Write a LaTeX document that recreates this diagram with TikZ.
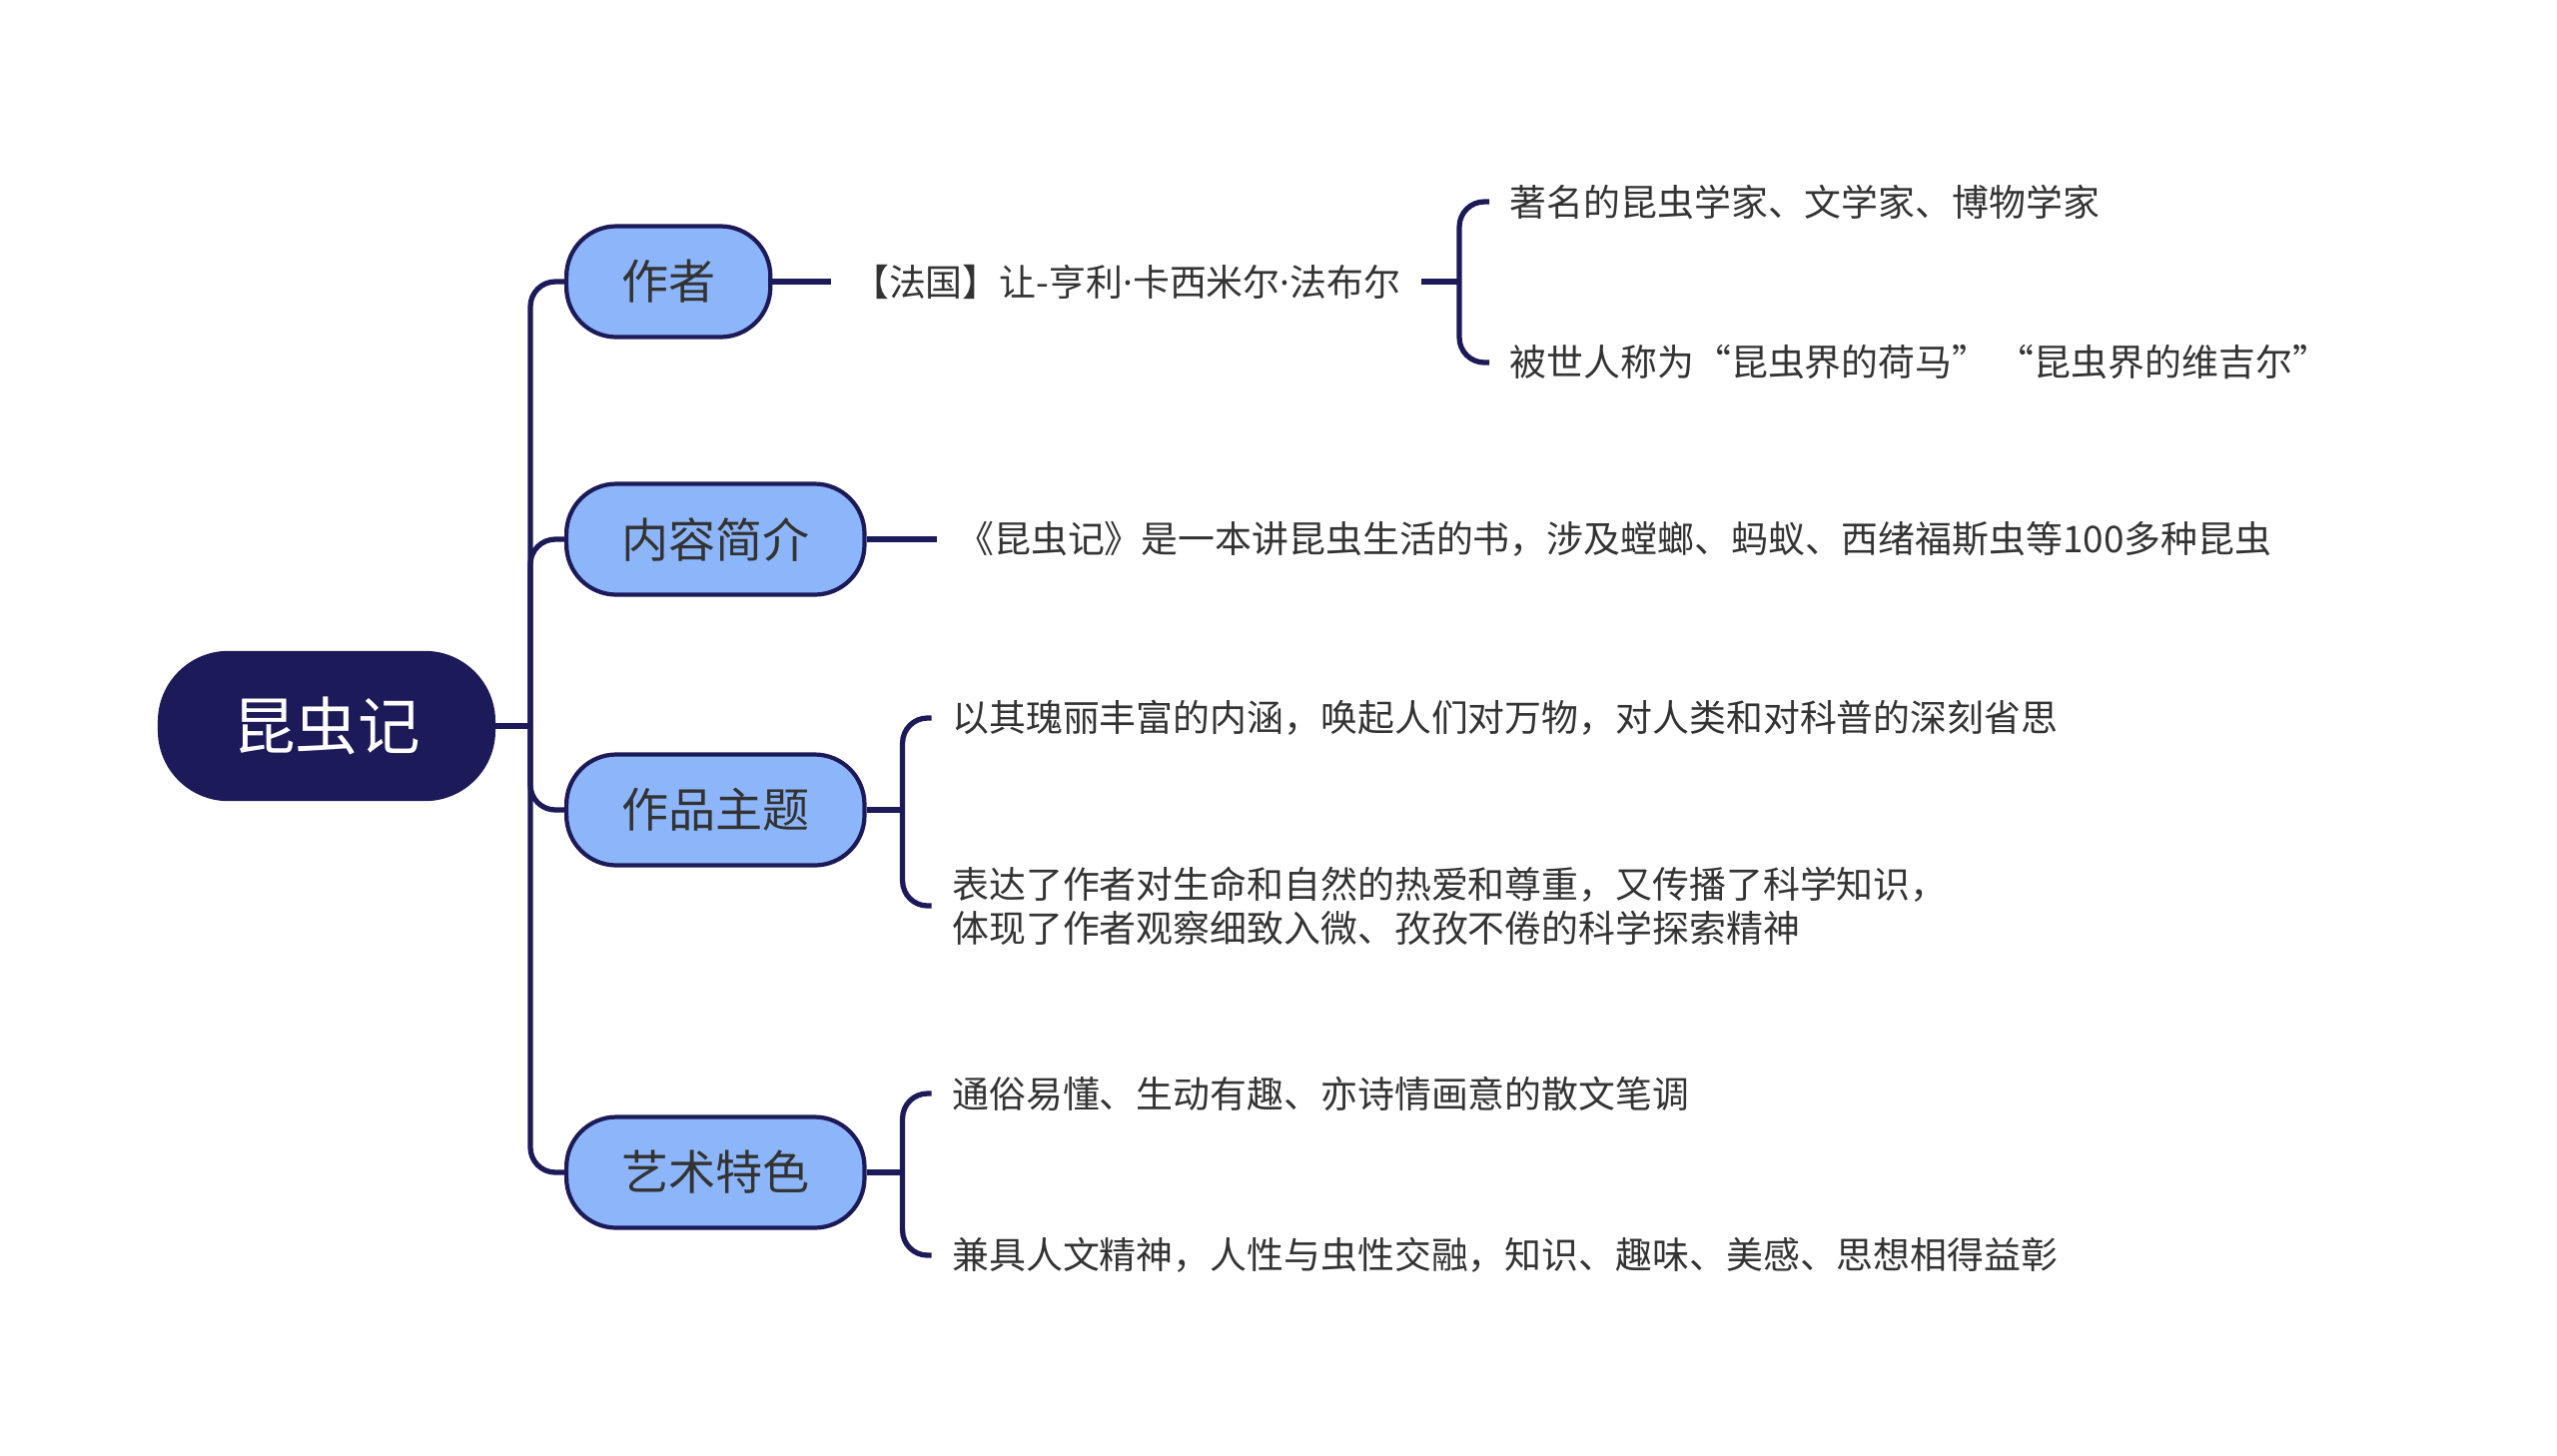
\documentclass[tikz,border=0pt]{standalone}
\usepackage{fontspec}
\newfontfamily\cjk{Noto Sans CJK SC}
\newfontfamily\latin{Noto Sans}
\usetikzlibrary{positioning}
\definecolor{navy}{HTML}{1C1A58}
\definecolor{skyfill}{HTML}{8DB6FA}
\definecolor{ink}{HTML}{333333}
\newcommand{\middot}{{\latin ·}}

\begin{document}
\begin{tikzpicture}[
    font=\cjk,
    root/.style={
      fill=navy,
      draw=navy,
      text=white,
      rounded corners=0.7cm,
      minimum height=1.49cm,
      inner xsep=0.745cm,
      font=\cjk\fontsize{17.8pt}{20pt}\selectfont
    },
    branch/.style={
      draw=navy,
      line width=1.2pt,
      fill=skyfill,
      text=ink,
      rounded corners=0.5cm,
      minimum height=1.11cm,
      inner xsep=0.55cm,
      anchor=west,
      font=\cjk\fontsize{13.4pt}{16pt}\selectfont
    },
    leaf/.style={
      text=ink,
      inner xsep=0.2cm,
      inner ysep=0.05cm,
      align=left,
      font=\cjk\fontsize{10.5pt}{12.5pt}\selectfont
    },
    link/.style={draw=navy, line width=1.5pt},
    elbow/.style={link, rounded corners=0.25cm}
  ]

  \useasboundingbox (0,0) rectangle (25.6,-14.57);

  % ===================== 中心主题 =====================
  \node[root] (insect) at (3.27,-7.27) {昆虫记};
  \coordinate (hub) at (5.31,-7.27);

  % ===================== 一级分支 =====================
  \node[branch] (author) at (5.65,-2.82) {作者};
  \node[branch] (content) at (5.65,-5.40) {内容简介};
  \node[branch] (theme) at (5.65,-8.11) {作品主题};
  \node[branch] (art) at (5.65,-11.74) {艺术特色};

  % ===================== 作者 =====================
  \node[leaf, right=0.59cm of author] (person) {【法国】让-亨利\middot 卡西米尔\middot 法布尔};
  \coordinate[right=0.38cm of person] (personhub);
  \node[leaf, anchor=west] (fame) at ([xshift=0.30cm, yshift=0.80cm]personhub) {著名的昆虫学家、文学家、博物学家};
  \node[leaf, anchor=west] (homer) at ([xshift=0.30cm, yshift=-0.81cm]personhub) {被世人称为“昆虫界的荷马” “昆虫界的维吉尔”};

  % ===================== 内容简介 =====================
  \node[leaf, right=0.7cm of content] (outline) {《昆虫记》是一本讲昆虫生活的书，涉及螳螂、蚂蚁、西绪福斯虫等100多种昆虫};

  % ===================== 作品主题 =====================
  \coordinate[right=0.36cm of theme] (themehub);
  \node[leaf, anchor=west] (reflect) at ([xshift=0.29cm, yshift=0.92cm]themehub) {以其瑰丽丰富的内涵，唤起人们对万物，对人类和对科普的深刻省思};
  \node[leaf, anchor=west] (love) at ([xshift=0.29cm, yshift=-0.96cm]themehub) {表达了作者对生命和自然的热爱和尊重，又传播了科学知识，\\体现了作者观察细致入微、孜孜不倦的科学探索精神};

  % ===================== 艺术特色 =====================
  \coordinate[right=0.36cm of art] (arthub);
  \node[leaf, anchor=west] (prose) at ([xshift=0.29cm, yshift=0.79cm]arthub) {通俗易懂、生动有趣、亦诗情画意的散文笔调};
  \node[leaf, anchor=west] (humane) at ([xshift=0.29cm, yshift=-0.83cm]arthub) {兼具人文精神，人性与虫性交融，知识、趣味、美感、思想相得益彰};

  % ===================== 连线 =====================
  \draw[link] (insect) -- (hub);
  \foreach \b in {author,content,theme,art}
    \draw[elbow] (hub) |- (\b.west);

  \draw[link] (author) -- (person);
  \draw[link] (person) -- (personhub);
  \draw[elbow] (personhub) |- (fame.west);
  \draw[elbow] (personhub) |- (homer.west);

  \draw[link] (content) -- (outline);

  \draw[link] (theme) -- (themehub);
  \draw[elbow] (themehub) |- (reflect.west);
  \draw[elbow] (themehub) |- (love.west);

  \draw[link] (art) -- (arthub);
  \draw[elbow] (arthub) |- (prose.west);
  \draw[elbow] (arthub) |- (humane.west);

\end{tikzpicture}
\end{document}
